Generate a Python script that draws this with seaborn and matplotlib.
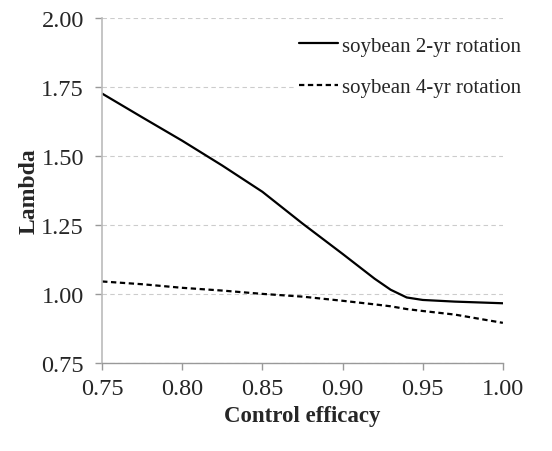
import matplotlib
matplotlib.use("Agg")
import matplotlib.pyplot as plt
import pandas as pd
import seaborn as sns

# values
efficacy = [0.75, 0.775, 0.80, 0.825, 0.85, 0.875, 0.90, 0.92, 0.93, 0.94, 0.95, 0.97, 1.00]
rot2 = [1.726, 1.64, 1.555, 1.465, 1.37, 1.255, 1.145, 1.055, 1.015, 0.987, 0.978, 0.972, 0.966]
rot4 = [1.045, 1.035, 1.022, 1.012, 1.0, 0.99, 0.975, 0.962, 0.955, 0.945, 0.938, 0.925, 0.895]
series = ["soybean 2-yr rotation", "soybean 4-yr rotation"]
y_ticks = [0.75, 1.00, 1.25, 1.50, 1.75, 2.00]
x_ticks = [0.75, 0.80, 0.85, 0.90, 0.95, 1.00]

df = pd.DataFrame({
    "efficacy": efficacy * 2,
    "lambda": rot2 + rot4,
    "series": [series[0]] * len(rot2) + [series[1]] * len(rot4),
})

sns.set_style("white")
plt.rcParams["font.family"] = ["Liberation Serif", "DejaVu Serif"]

fig, ax = plt.subplots(figsize=(5.52, 4.52), dpi=100)
fig.subplots_adjust(left=0.185, right=0.911, top=0.958, bottom=0.195)

sns.lineplot(data=df, x="efficacy", y="lambda", style="series",
             style_order=series, dashes={series[0]: "", series[1]: (2.4, 1.6)},
             color="black", linewidth=1.6, ax=ax)

ax.set_xlim(0.75, 1.00)
ax.set_ylim(0.75, 2.00)
ax.set_xticks(x_ticks)
ax.set_yticks(y_ticks)
ax.set_xticklabels([f"{v:.2f}" for v in x_ticks])
ax.set_yticklabels([f"{v:.2f}" for v in y_ticks])
ax.tick_params(axis="both", labelsize=17.5, direction="out", length=5,
               width=1, color="#999999", left=True, bottom=True)
ax.tick_params(axis="x", pad=6)
ax.tick_params(axis="y", pad=8)

ax.yaxis.grid(True, linestyle=(0, (4, 3)), color="#cccccc", linewidth=0.8)
ax.xaxis.grid(False)
ax.set_axisbelow(True)

for s in ["top", "right"]:
    ax.spines[s].set_visible(False)
ax.spines["left"].set_color("#bbbbbb")
ax.spines["bottom"].set_color("#999999")
ax.spines["left"].set_linewidth(1.2)
ax.spines["bottom"].set_linewidth(1.0)

ax.set_xlabel("Control efficacy", fontsize=16.5, fontweight="bold", labelpad=4)
ax.set_ylabel("Lambda", fontsize=17, fontweight="bold", labelpad=1)

leg = ax.legend(loc="upper right", frameon=True, fontsize=15, title=None,
                handlelength=1.9, handletextpad=0.2, labelspacing=1.05,
                borderpad=0.2, bbox_to_anchor=(1.083, 0.99))
leg.get_frame().set_facecolor("white")
leg.get_frame().set_edgecolor("none")
leg.get_frame().set_alpha(1)

plt.savefig("out.png", dpi=100)
plt.close()
